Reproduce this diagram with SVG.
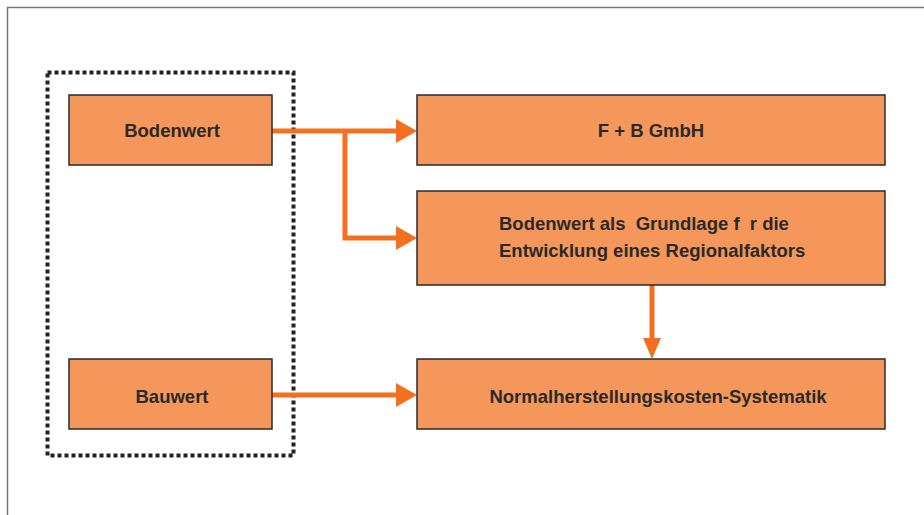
<svg xmlns="http://www.w3.org/2000/svg" width="924" height="515" viewBox="0 0 924 515">
<style>
.box{fill:#f5975a;stroke:#2a2a2a;stroke-width:1.5}
.lbl{font-family:"Liberation Sans",Arial,sans-serif;font-weight:bold;font-size:18.5px;fill:#2a2a2a;white-space:pre}
.con{fill:none;stroke:#f37021;stroke-width:5}
.head{fill:#f37021}
</style>
<rect width="924" height="515" fill="#ffffff"/>
<path d="M7.5,515 V7.5 H924" fill="none" stroke="#777" stroke-width="1.5"/>
<rect x="47.5" y="72.5" width="246" height="383" fill="none" stroke="#222" stroke-width="4" stroke-dasharray="4,3"/>
<g id="connectors">
<path class="con" d="M272,131 H398"/>
<polygon class="head" points="396,119 417,131 396,143"/>
<path class="con" d="M345,131 V238 H398"/>
<polygon class="head" points="396,226 417,238 396,250"/>
<path class="con" d="M652,285 V340"/>
<polygon class="head" points="643,338 652,359 661,338"/>
<path class="con" d="M272,395 H398"/>
<polygon class="head" points="396,383 417,395 396,407"/>
</g>
<g id="bodenwert">
<rect class="box" x="69" y="95" width="203" height="70"/>
<text class="lbl" x="172" y="137" text-anchor="middle">Bodenwert</text>
</g>
<g id="bauwert">
<rect class="box" x="69" y="359" width="203" height="70"/>
<text class="lbl" x="172" y="403" text-anchor="middle">Bauwert</text>
</g>
<g id="fb">
<rect class="box" x="417" y="95" width="468" height="70"/>
<text class="lbl" x="651" y="137" text-anchor="middle">F + B GmbH</text>
</g>
<g id="grundlage">
<rect class="box" x="417" y="191" width="468" height="94"/>
<text class="lbl" x="499" y="230">Bodenwert als  Grundlage f  r die</text>
<text class="lbl" x="499" y="257">Entwicklung eines Regionalfaktors</text>
</g>
<g id="nhk">
<rect class="box" x="417" y="359" width="468" height="70"/>
<text class="lbl" x="658" y="403" text-anchor="middle">Normalherstellungskosten-Systematik</text>
</g>
</svg>
